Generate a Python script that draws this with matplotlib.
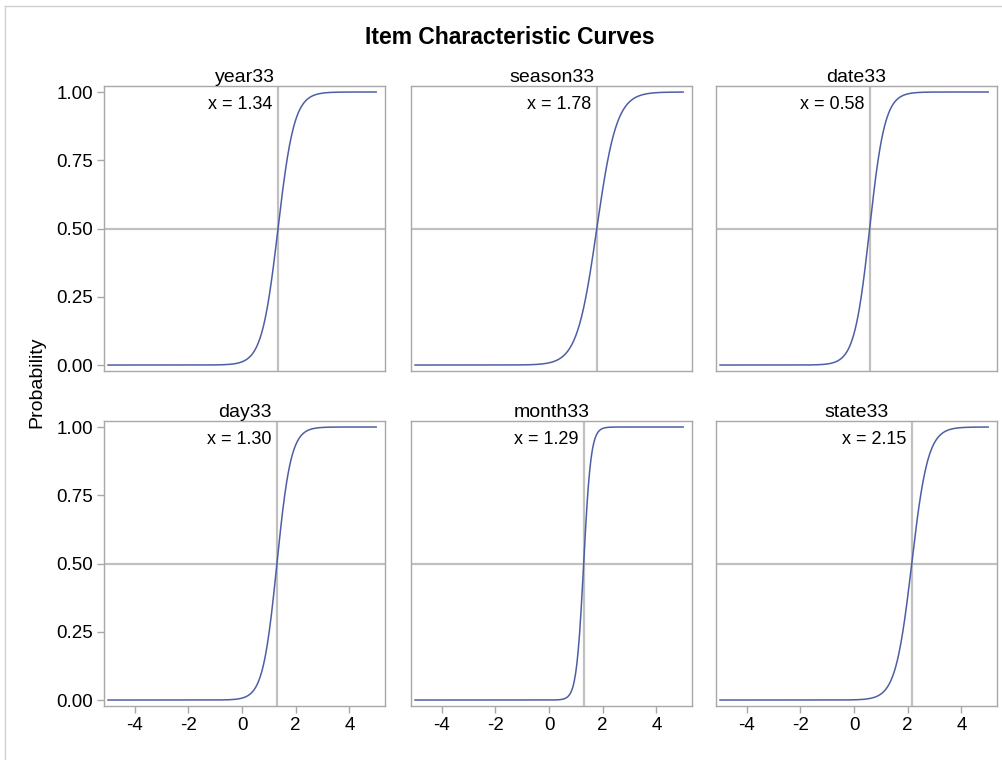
import numpy as np
import matplotlib
matplotlib.use("Agg")
import matplotlib.pyplot as plt
from matplotlib.lines import Line2D

plt.rcParams['font.family'] = ['Liberation Sans', 'DejaVu Sans']

# Item parameters
items = ["year33", "season33", "date33", "day33", "month33", "state33"]
locations = [1.34, 1.78, 0.58, 1.30, 1.29, 2.15]
slopes = [3.3, 2.7, 3.5, 3.8, 7.4, 3.3]
theta_min, theta_max = -5, 5
x_ticks = [-4, -2, 0, 2, 4]
y_ticks = [0.00, 0.25, 0.50, 0.75, 1.00]

W, H = 1002, 760
fig = plt.figure(figsize=(W / 100, H / 100), dpi=100)

# light frame around the graph
fig.add_artist(Line2D([5 / W, 5 / W], [0, 1 - 6 / H], color='#d0d0d0', lw=1))
fig.add_artist(Line2D([5 / W, 1], [1 - 6 / H, 1 - 6 / H], color='#d0d0d0', lw=1))

fig.text(510 / W, 1 - 38 / H, "Item Characteristic Curves", ha='center', va='center',
         fontsize=16.5, fontweight='bold')
fig.text(37 / W, 1 - 382 / H, "Probability", ha='center', va='center',
         rotation=90, fontsize=14)

lefts = [104, 411, 716]
tops = [86, 421]
pw, ph = 281, 284.5
curve_col = '#4d5fa3'
ref_col = '#c0c0c0'

theta = np.linspace(theta_min, theta_max, 400)

for i, name in enumerate(items):
    r, c = divmod(i, 3)
    ax = fig.add_axes([lefts[c] / W, 1 - (tops[r] + ph) / H, pw / W, ph / H])
    loc = locations[i]
    p = 1 / (1 + np.exp(-slopes[i] * (theta - loc)))
    ax.axhline(0.5, color=ref_col, lw=1.6, zorder=1)
    ax.axvline(loc, color=ref_col, lw=1.6, zorder=1)
    ax.plot(theta, p, color=curve_col, lw=1.1, zorder=3)
    ax.annotate("x = %.2f" % loc, xy=(loc, 1.0), xytext=(-4, -9),
                textcoords='offset points', ha='right', va='center', fontsize=13)
    ax.set_title(name, fontsize=14, pad=1)
    ax.set_xlim(-5.15, 5.33)
    ax.set_ylim(-0.02, 1.022)
    ax.set_xticks(x_ticks)
    ax.set_yticks(y_ticks)
    for s in ax.spines.values():
        s.set_color('#a8a8a8')
        s.set_linewidth(1)
    ax.tick_params(color='#a8a8a8', length=5, width=1, labelsize=13.5, pad=3)
    if c == 0:
        ax.set_yticklabels(["%.2f" % v for v in y_ticks])
    else:
        ax.tick_params(axis='y', left=False, labelleft=False)
    if r == 1:
        ax.set_xticklabels([str(v) for v in x_ticks])
    else:
        ax.tick_params(axis='x', bottom=False, labelbottom=False)

fig.savefig("out.png", dpi=100)
